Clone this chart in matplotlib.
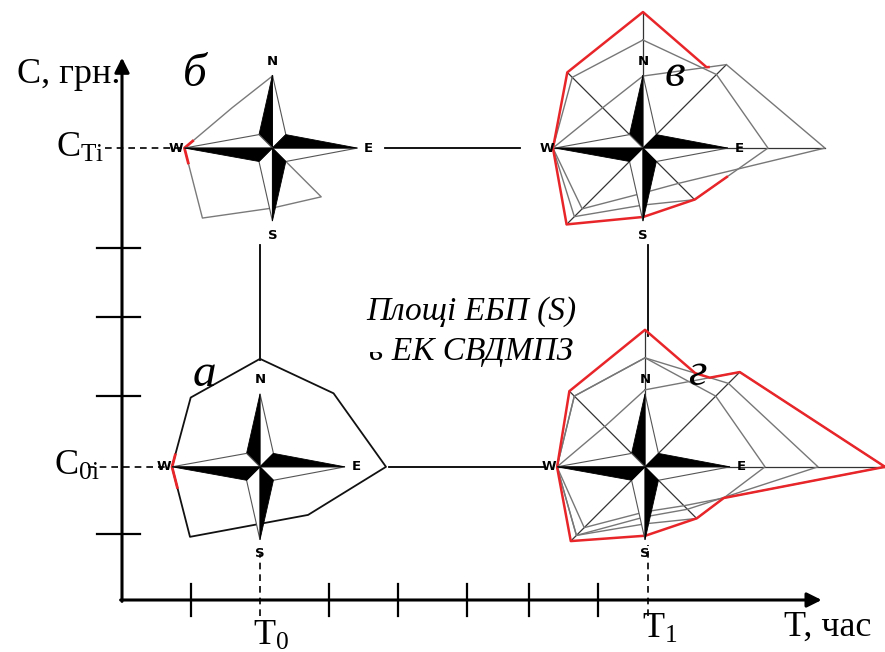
import numpy as np
import matplotlib.pyplot as plt
from matplotlib.patches import Polygon, Rectangle

plt.rcParams['font.family'] = ['Liberation Serif', 'DejaVu Serif']
plt.rcParams['mathtext.fontset'] = 'custom'
plt.rcParams['mathtext.rm'] = 'Liberation Serif'
plt.rcParams['mathtext.it'] = 'Liberation Serif:italic'

# axis values (schematic units)
t_ticks = [1.0, 3.0, 4.0, 5.0, 5.9, 6.9]
c_ticks = [0.95, 2.95, 4.1, 5.1]
T0, T1 = 2.0, 7.62
C0, CT = 1.93, 6.55

# radar values, order N NE E SE S SW W NW
dirs = ['N', 'NE', 'E', 'SE', 'S', 'SW', 'W', 'NW']
a_vals = [108, 104, 126, 68, 57, 99, 88, 98]
b_vals = [72, 0, 0, 69, 60, 99, 88, 57]
v_grey1 = [72, 118, 182, 50, 45, 86, 90, 57]
v_grey2 = [108, 104, 125, 73, 57, 97, 90, 100]
v_red = [136, 103, 110, 73, 69, 108, 90, 107]
g_grey1 = [77, 134, 240, 55, 45, 86, 88, 57]
g_grey2 = [109, 118, 173, 60, 50, 97, 88, 100]
g_grey3 = [109, 100, 120, 73, 57, 97, 88, 100]
g_red = [137, 104, 110, 73, 69, 105, 88, 107]

U = 69.0  # radar value per axis unit
ang = np.deg2rad([90, 45, 0, -45, -90, -135, 180, 135])
ccw = [2, 1, 0, 7, 6, 5, 4, 3]

fig = plt.figure(figsize=(8.85, 6.52), dpi=100)
ax = fig.add_axes([0, 0, 1, 1])
ax.set_xlim(-122 / U, 763 / U)
ax.set_ylim(-52 / U, 600 / U)
ax.axis('off')


def poly_xy(cx, cy, vals):
    r = np.asarray(vals, float) / U
    x = cx + r * np.cos(ang)
    y = cy + r * np.sin(ang)
    return np.append(x, x[0]), np.append(y, y[0])


def radial(vals, th):
    r = np.asarray(vals, float)[ccw]
    k = (th // 45).astype(int) % 8
    a1 = np.deg2rad(k * 45)
    a2 = a1 + np.pi / 4
    r1, r2 = r[k], r[(k + 1) % 8]
    p1x, p1y = r1 * np.cos(a1), r1 * np.sin(a1)
    dx, dy = r2 * np.cos(a2) - p1x, r2 * np.sin(a2) - p1y
    ux, uy = np.cos(np.deg2rad(th)), np.sin(np.deg2rad(th))
    num = p1x * dy - p1y * dx
    den = ux * dy - uy * dx
    ok = np.abs(den) > 1e-9
    return np.where(ok, num / np.where(ok, den, 1), 0)


def red_env(cx, cy, polys, a0, a1, lw=1.8):
    th = np.arange(a0, a1 + 0.05, 0.1) % 360
    r = np.max([radial(p, th) for p in polys], axis=0) / U
    t = np.deg2rad(th)
    ax.plot(cx + r * np.cos(t), cy + r * np.sin(t), color='#e8262a', lw=lw, zorder=3)


def spokes(cx, cy, polys):
    rmax = np.max(np.array(polys, float), axis=0) / U
    for a, r in zip(ang, rmax):
        ax.plot([cx, cx + r * np.cos(a)], [cy, cy + r * np.sin(a)], color='#333333', lw=0.9, zorder=2)


def star(cx, cy):
    arms = [(90, 73, 'N', 87), (0, 85, 'E', 96), (-90, 73, 'S', 87), (180, 88, 'W', 96)]
    k = 19 / U
    for a, L, lab, off in arms:
        ar = np.deg2rad(a)
        tip = (cx + L / U * np.cos(ar), cy + L / U * np.sin(ar))
        left = (cx + k * np.cos(ar + np.pi / 4), cy + k * np.sin(ar + np.pi / 4))
        right = (cx + k * np.cos(ar - np.pi / 4), cy + k * np.sin(ar - np.pi / 4))
        ax.add_patch(Polygon([(cx, cy), tip, right], closed=True, fc='white', ec='#555555', lw=0.8, zorder=4))
        ax.add_patch(Polygon([(cx, cy), tip, left], closed=True, fc='black', ec='black', lw=0.6, zorder=4))
        ax.text(cx + off / U * np.cos(ar), cy + off / U * np.sin(ar), lab, family='DejaVu Sans',
                weight='bold', fontsize=9.5, ha='center', va='center', zorder=5)


# axes
ax.annotate('', xy=(0, 7.86), xytext=(0, -0.02),
            arrowprops=dict(arrowstyle='-|>', lw=2.2, color='k', mutation_scale=22, shrinkA=0, shrinkB=0))
ax.annotate('', xy=(10.14, 0), xytext=(-0.02, 0),
            arrowprops=dict(arrowstyle='-|>', lw=2.2, color='k', mutation_scale=22, shrinkA=0, shrinkB=0))
for t in t_ticks:
    ax.plot([t, t], [-0.23, 0.23], color='k', lw=1.6)
for c in c_ticks:
    ax.plot([-0.36, 0.26], [c, c], color='k', lw=1.6)

# compass centres
cb = (T0 + 0.18, CT)
ca = (T0, C0)
cv = (T1 - 0.07, CT)
cg = (T1 - 0.04, C0)

# dashed guides
dash = dict(color='k', lw=1.2, ls=(0, (4, 3)))
ax.plot([-0.25, cb[0] - 1.25], [CT, CT], **dash)
ax.plot([-0.5, ca[0] - 1.38], [C0, C0], **dash)
ax.plot([T0, T0], [-0.23, ca[1] - 1.27], **dash)
ax.plot([T1, T1], [-0.23, cg[1] - 1.13], **dash)

# connecting lines
ax.plot([cb[0] + 1.63, cv[0] - 1.78], [CT, CT], color='k', lw=1.3)
ax.plot([ca[0] + 1.87, cg[0] - 1.45], [C0, C0], color='k', lw=1.3)
ax.plot([T0, T0], [cb[1] - 1.41, ca[1] + 1.55], color='k', lw=1.3)
ax.plot([T1, T1], [cv[1] - 1.41, cg[1] + 1.9], color='k', lw=1.3)

# б
x, y = poly_xy(*cb, b_vals)
ax.plot(x, y, color='#7a7a7a', lw=1.0, zorder=2)
red_env(*cb, [b_vals], 175, 190, lw=2)
star(*cb)

# а
x, y = poly_xy(*ca, a_vals)
ax.plot(x, y, color='#111111', lw=1.3, zorder=2)
red_env(*ca, [a_vals], 172, 194, lw=2)
star(*ca)

# в
spokes(*cv, [v_grey1, v_grey2, v_red])
for p in [v_grey1, v_grey2]:
    x, y = poly_xy(*cv, p)
    ax.plot(x, y, color='#777777', lw=1.0, zorder=2)
red_env(*cv, [v_grey1, v_grey2, v_red], 51, 341)
star(*cv)

# г
spokes(*cg, [g_grey1, g_grey2, g_grey3, g_red])
for p in [g_grey1, g_grey2, g_grey3]:
    x, y = poly_xy(*cg, p)
    ax.plot(x, y, color='#777777', lw=1.0, zorder=2)
red_env(*cg, [g_grey1, g_grey2, g_grey3, g_red], 0, 360)
star(*cg)

# labels
ax.text(-0.03, 7.61, 'C, грн.', fontsize=26, ha='right', va='center')
ax.text(-0.25, CT, r'C$_{\rm Ti}$', fontsize=26, ha='right', va='center')
ax.text(-0.32, C0, r'C$_{\rm 0i}$', fontsize=26, ha='right', va='center')
ax.text(T0 + 0.16, -0.52, r'T$_{\rm 0}$', fontsize=26, ha='center', va='center')
ax.text(T1 + 0.18, -0.43, r'T$_{\rm 1}$', fontsize=26, ha='center', va='center')
ax.text(10.23, -0.39, 'T, час', fontsize=26, ha='center', va='center')

for (px, py), s in zip([(1.06, 7.61), (8.01, 7.61), (1.2, 3.26), (8.33, 3.28)], ['б', 'в', 'а', 'г']):
    ax.text(px, py, s, fontsize=34, style='italic', ha='center', va='center', zorder=6)

ax.text(5.06, 4.06, 'Площі ЕБП (S)', fontsize=24, style='italic', ha='center', va='baseline')
ax.text(5.06, 3.48, 'в ЕК СВДМПЗ', fontsize=24, style='italic', ha='center', va='baseline')
ax.add_patch(Rectangle((3.0, 3.59), 0.9, 0.28, fc='white', ec='none', zorder=7))

fig.savefig('out.png', dpi=100)
